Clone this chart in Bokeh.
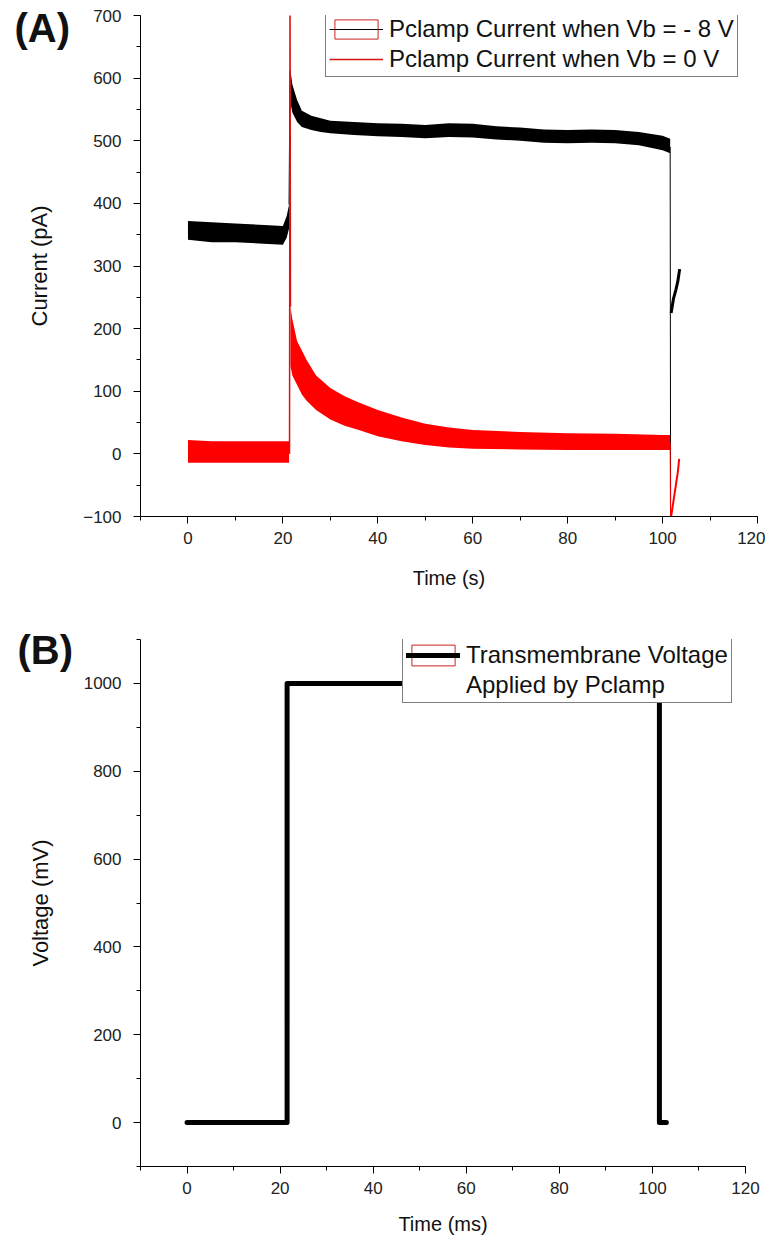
from bokeh.plotting import figure
from bokeh.layouts import column
from bokeh.models import (Range1d, SingleIntervalTicker, Legend, LegendItem, Title)
from bokeh.embed import file_html
from bokeh.resources import INLINE

FONT = "Liberation Sans"

# ---------------- Panel A data ----------------
# baseline before the voltage step (t in s, current in pA)
t_pre = [0, 5, 10, 15, 20, 20.8, 21.3]
blk_pre_hi = [372, 370, 368, 366, 364, 380, 398]
blk_pre_lo = [342, 338, 338, 336, 334, 345, 360]
red_pre_hi = [22, 20, 20, 20, 20, 20, 20]
red_pre_lo = [-14, -14, -14, -14, -14, -14, -14]

# during the step, black trace (Vb = -8 V)
t_blk_post = [21.6, 22, 23, 24, 26, 28, 30, 35, 40, 45, 50, 55, 60, 65, 70, 75, 80, 85, 90, 95, 100, 101.6]
blk_post_hi = [612, 590, 565, 548, 540, 536, 532, 530, 528, 527, 525, 528, 527, 523, 521, 518, 517, 518, 517, 514, 508, 503]
blk_post_lo = [560, 545, 530, 522, 517, 514, 512, 509, 507, 506, 504, 506, 505, 502, 500, 497, 496, 497, 496, 493, 485, 480]

# during the step, red trace (Vb = 0 V)
t_red_post = [21.6, 22.0, 23, 24, 25, 27, 30, 33, 36, 40, 45, 50, 55, 60, 70, 80, 90, 100, 101.6]
red_post_hi = [235, 215, 180, 165, 150, 125, 105, 92, 82, 70, 58, 48, 42, 38, 35, 33, 32, 30, 30]
red_post_lo = [140, 125, 110, 95, 85, 70, 55, 45, 38, 28, 20, 14, 10, 8, 7, 6, 6, 6, 6]

# capacitive spikes and tails
t_red_spike = [21.40, 21.50, 21.60]
i_red_spike = [0, 760, 235]
t_blk_spike = [21.3, 21.5, 21.6]
i_blk_spike = [398, 610, 612]
t_blk_drop = [101.6, 101.7]
i_blk_drop = [490, -150]
t_red_drop = [101.6, 101.7]
i_red_drop = [17, -150]
t_blk_tail = [101.8, 102.3, 102.8, 103.2, 103.6]
i_blk_tail = [225, 248, 262, 275, 295]
t_red_tail = [101.8, 102.3, 102.8, 103.2, 103.5]
i_red_tail = [-100, -75, -50, -30, -8]

# ---------------- Panel B data ----------------
t_volt = [0, 21.5, 21.5, 101.5, 101.5, 103]
v_volt = [0, 0, 1000, 1000, 0, 0]

labels_A = ["Pclamp Current when Vb = - 8 V", "Pclamp Current when Vb = 0 V"]
labels_B = ["Transmembrane Voltage", "Applied by Pclamp"]


def style_axes(p, xint, yint):
    p.outline_line_color = None
    p.grid.visible = False
    p.xaxis.ticker = SingleIntervalTicker(interval=xint, num_minor_ticks=2)
    p.yaxis.ticker = SingleIntervalTicker(interval=yint, num_minor_ticks=2)
    for ax in (p.xaxis[0], p.yaxis[0]):
        ax.axis_line_color = "black"
        ax.axis_line_width = 1
        ax.major_tick_line_color = "black"
        ax.minor_tick_line_color = "black"
        ax.major_tick_out = 7
        ax.major_tick_in = 0
        ax.minor_tick_out = 4
        ax.minor_tick_in = 0
        ax.major_label_text_font = FONT
        ax.major_label_text_font_size = "17px"
        ax.major_label_text_color = "#222222"
        ax.axis_label_text_font = FONT
        ax.axis_label_text_font_style = "normal"
        ax.axis_label_text_color = "#111111"
    p.xaxis.major_label_standoff = 8
    p.yaxis.major_label_standoff = 12
    p.xaxis.axis_label_text_font_size = "20px"
    p.yaxis.axis_label_text_font_size = "22px"


def make_legend(p, items, loc, gh, lh):
    lg = Legend(items=items, location=loc, orientation="vertical")
    lg.border_line_color = "black"
    lg.border_line_width = 1
    lg.background_fill_color = "white"
    lg.background_fill_alpha = 1
    lg.label_text_font = FONT
    lg.label_text_font_size = "24px"
    lg.label_text_color = "#111111"
    lg.glyph_width = 54
    lg.glyph_height = gh
    lg.label_height = lh
    lg.label_standoff = 6
    lg.spacing = 2
    lg.padding = 3
    lg.margin = 0
    p.add_layout(lg)


def panel_tag(p, text, offset, standoff):
    p.add_layout(Title(text=text, align="left", vertical_align="bottom",
                       offset=offset, standoff=standoff,
                       text_font=FONT, text_font_style="bold", text_font_size="40px",
                       text_color="#111111"), "above")


# ---------------- Panel A ----------------
pA = figure(frame_width=617, frame_height=501, output_backend="svg", toolbar_location=None,
            x_range=Range1d(-10, 120), y_range=Range1d(-100, 700),
            min_border_left=138, min_border_right=10, min_border_top=15, min_border_bottom=92,
            x_axis_label="Time (s)", y_axis_label="Current (pA)")
style_axes(pA, 20, 100)
pA.xaxis.axis_label_standoff = 20
pA.yaxis.axis_label_standoff = 28

pA.varea(x=t_pre, y1=blk_pre_lo, y2=blk_pre_hi, fill_color="black")
pA.varea(x=t_blk_post, y1=blk_post_lo, y2=blk_post_hi, fill_color="black")
blk_drop = pA.line(t_blk_drop, i_blk_drop, line_color="black", line_width=1)
pA.line(t_blk_tail, i_blk_tail, line_color="black", line_width=3)
pA.line(t_blk_spike, i_blk_spike, line_color="black", line_width=1)

pA.varea(x=t_pre, y1=red_pre_lo, y2=red_pre_hi, fill_color="red")
pA.varea(x=t_red_post, y1=red_post_lo, y2=red_post_hi, fill_color="red")
red_spike = pA.line(t_red_spike, i_red_spike, line_color="#dd1111", line_width=1.5)
pA.line(t_red_drop, i_red_drop, line_color="red", line_width=1)
pA.line(t_red_tail, i_red_tail, line_color="red", line_width=2)

rectA = pA.rect(x=[-1000], y=[-1000], width=1, height=1, fill_alpha=0,
                line_color="#cc2222", line_width=1)
make_legend(pA, [LegendItem(label=labels_A[0], renderers=[rectA, blk_drop]),
                 LegendItem(label=labels_A[1], renderers=[red_spike])], (185, 439), 24, 26)

panel_tag(pA, "(A)", -126, -68)

# ---------------- Panel B ----------------
pB = figure(frame_width=605, frame_height=527, output_backend="svg", toolbar_location=None,
            x_range=Range1d(-10, 120), y_range=Range1d(-100, 1100),
            min_border_left=140, min_border_right=20, min_border_top=31, min_border_bottom=68,
            x_axis_label="Time (ms)", y_axis_label="Voltage (mV)")
style_axes(pB, 20, 200)
pB.xaxis.axis_label_standoff = 16
pB.yaxis.axis_label_standoff = 28

volt = pB.line(t_volt, v_volt, line_color="black", line_width=5,
               line_join="round", line_cap="round")
rectB = pB.rect(x=[-1000], y=[-1000], width=1, height=1, fill_alpha=0,
                line_color="#cc2222", line_width=1)
blank = pB.line([-1000, -999], [-1000, -1000], line_alpha=0)
make_legend(pB, [LegendItem(label=labels_B[0], renderers=[rectB, volt]),
                 LegendItem(label=labels_B[1], renderers=[blank])], (262, 463), 26, 26)

panel_tag(pB, "(B)", -123, -64)

layout = column(pA, pB, spacing=0)
open("out.html", "w").write(file_html(layout, INLINE))
